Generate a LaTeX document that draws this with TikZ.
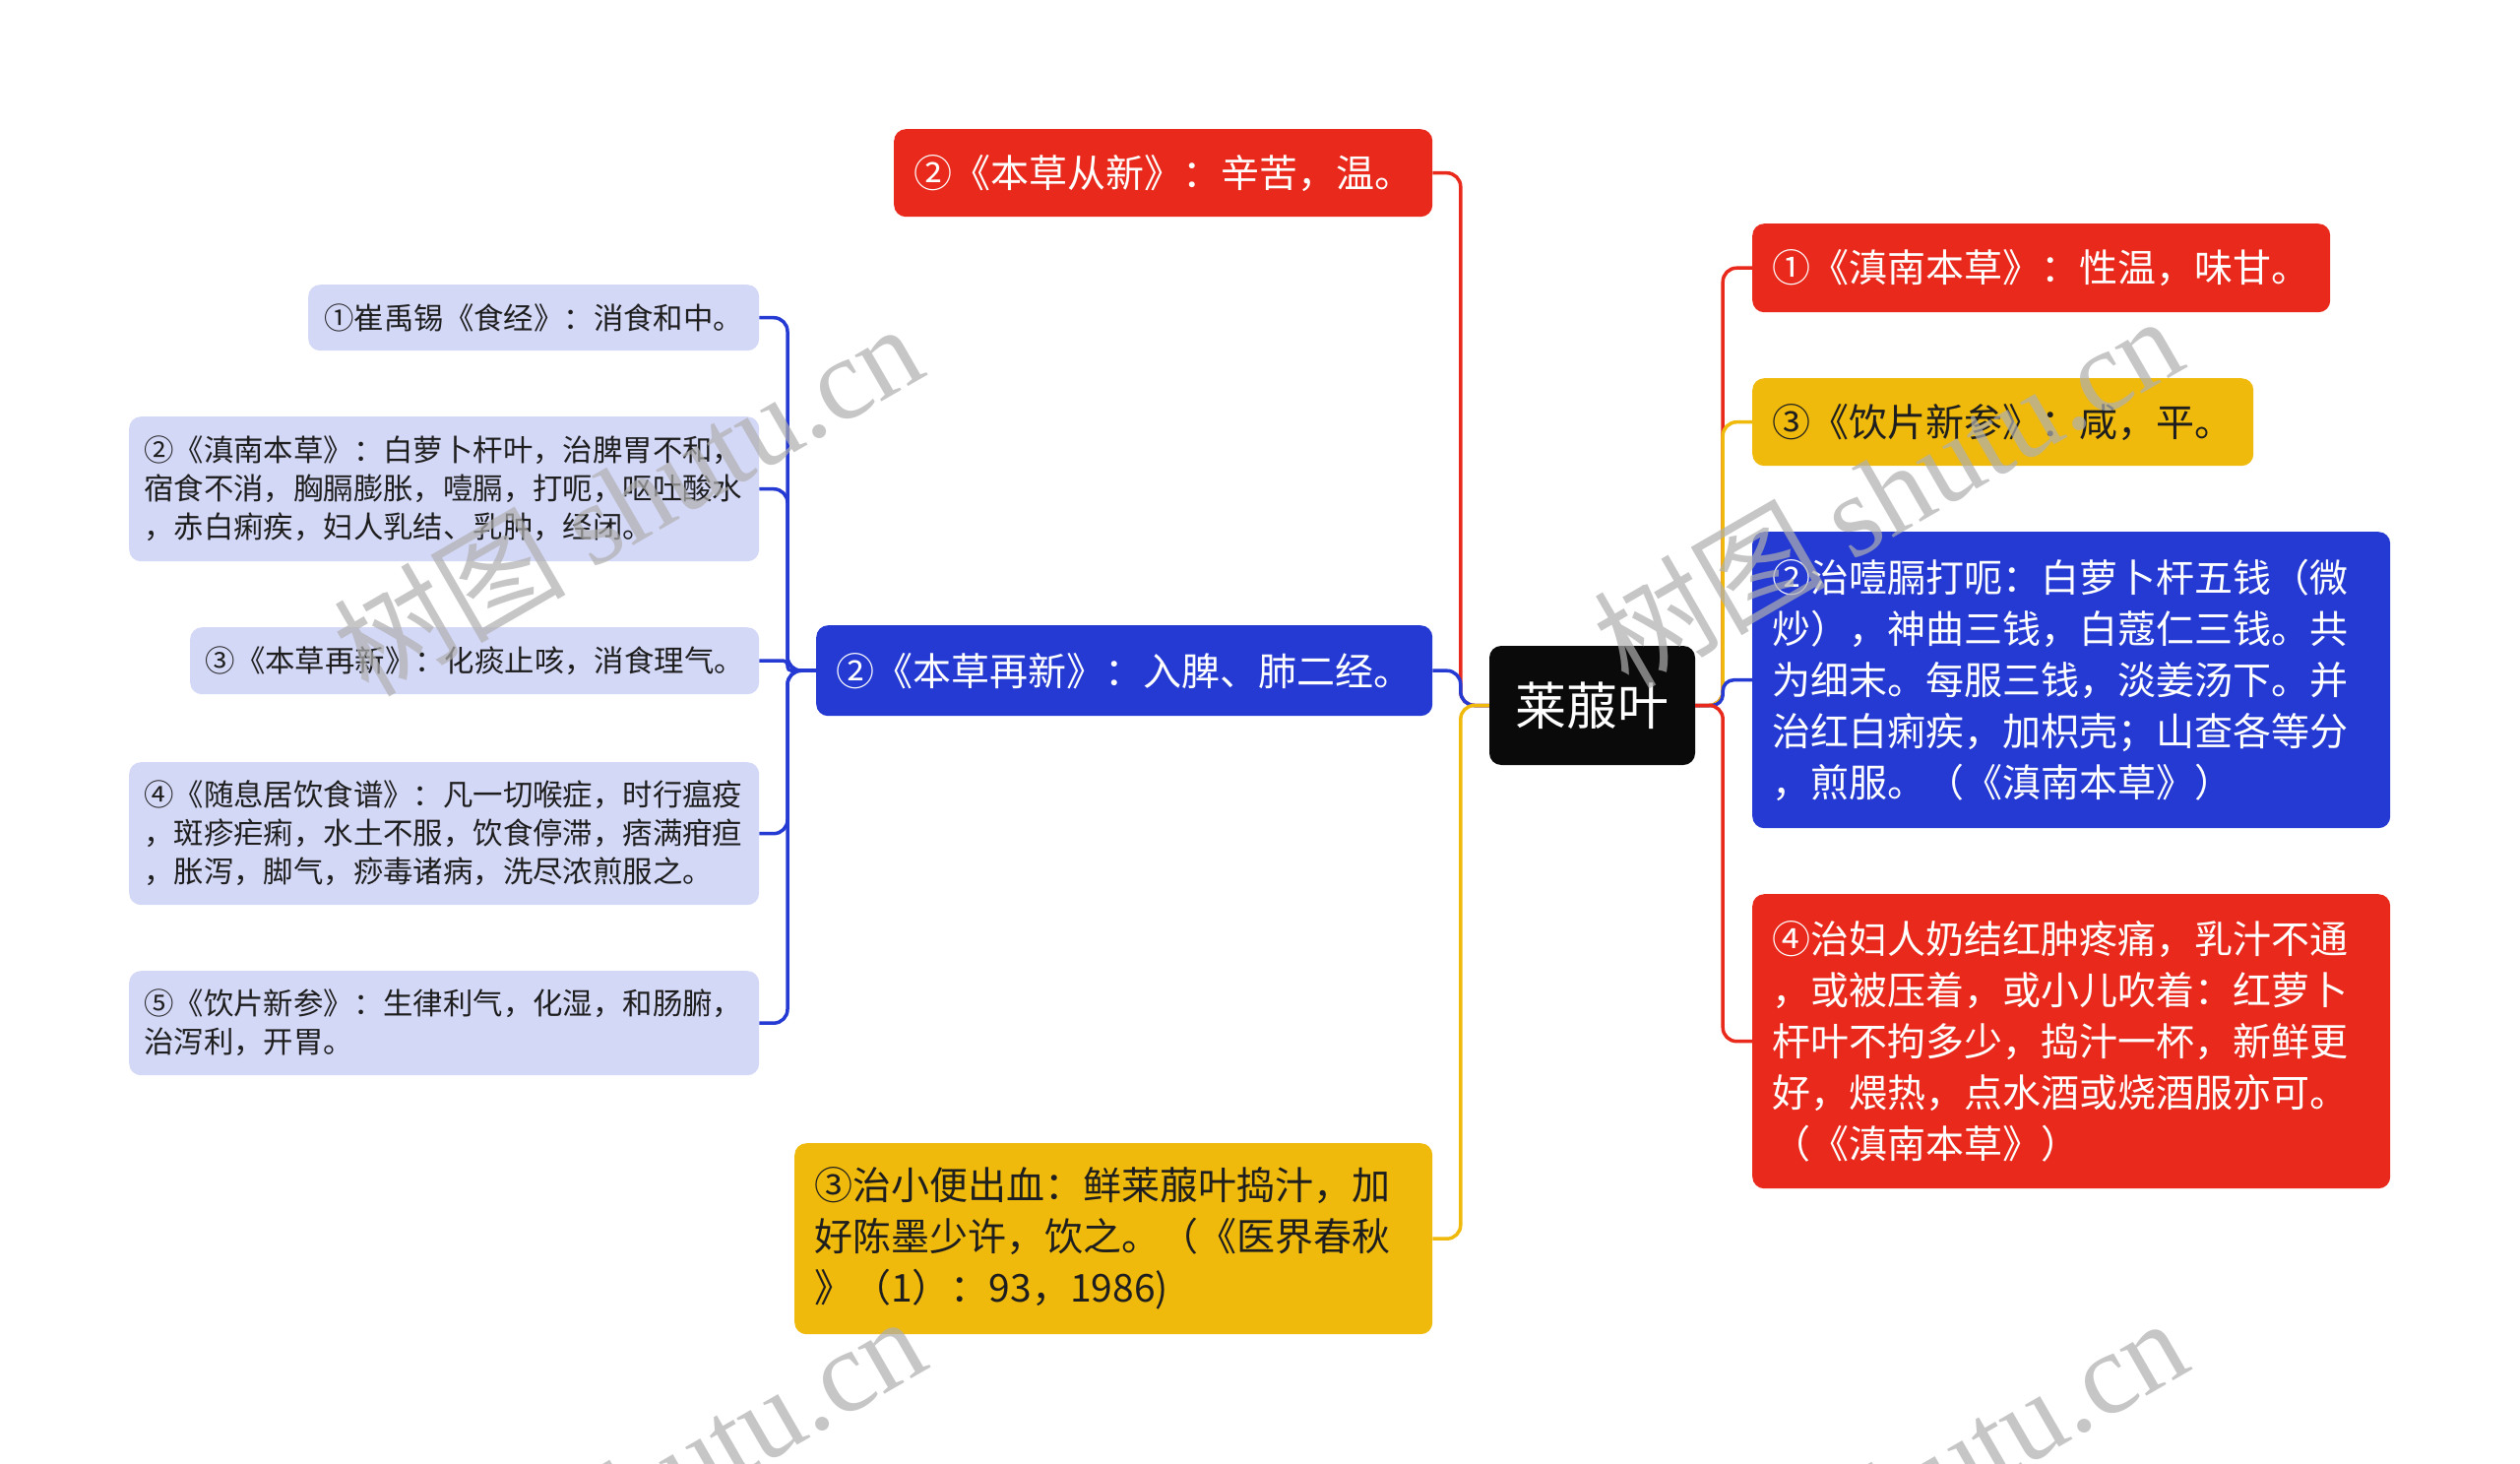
\documentclass[tikz,border=0pt]{standalone}
\usepackage{fontspec}
\setmainfont{Noto Sans CJK SC}
\newfontfamily\wmfont{Liberation Serif}
\newfontfamily\wmcjk{Noto Sans CJK SC}
\definecolor{cred}{RGB}{233,41,27}
\definecolor{cblue}{RGB}{36,58,211}
\definecolor{cyel}{RGB}{240,186,12}
\definecolor{clav}{RGB}{212,216,247}
\definecolor{cblk}{RGB}{10,10,10}
\definecolor{ctxt}{RGB}{30,30,30}
\definecolor{wmgray}{RGB}{175,175,175}
\begin{document}
\begin{tikzpicture}[x=1pt,y=-1pt,
  bigbox/.style={rounded corners=12pt, inner xsep=20pt, inner ysep=0pt, anchor=north west,
    font=\fontsize{39pt}{52pt}\selectfont},
  lavbox/.style={rounded corners=12pt, inner xsep=15pt, inner ysep=0pt, anchor=north west,
    fill=clav, text=ctxt, font=\fontsize{30.4pt}{39pt}\selectfont},
  conn/.style={line width=3.5pt, rounded corners=14pt},
  wm/.style={rotate=30, anchor=base east, inner sep=0pt, text=wmgray, text opacity=0.7,
    font=\fontsize{118pt}{118pt}\selectfont}
]
\useasboundingbox (0,0) rectangle (2560,1487);
\clip (0,0) rectangle (2560,1487);
\fill[white] (0,0) rectangle (2560,1487);

% central
\node[rounded corners=12pt, fill=cblk, text=white, minimum width=209pt, minimum height=121pt,
  inner sep=0pt, font=\fontsize{52pt}{60pt}\selectfont] (cent) at (1617.5,716.5) {莱菔叶};

% left main branches
\node[bigbox, fill=cred, text=white, minimum width=547pt, minimum height=89pt, text width=507pt, align=center]
  (l1) at (908,131) {②《本草从新》：辛苦，温。};
\node[bigbox, fill=cblue, text=white, minimum width=626pt, minimum height=92pt, text width=586pt, align=center]
  (l2) at (829,635) {②《本草再新》：入脾、肺二经。};
\node[bigbox, fill=cyel, text=ctxt, minimum width=648pt, minimum height=194pt, text width=608pt, align=left]
  (l3) at (807,1161) {③治小便出血：鲜莱菔叶捣汁，加\\好陈墨少许，饮之。（《医界春秋\\》（1）：93，1986)};

% lavender sub-branches
\node[lavbox, minimum width=458pt, minimum height=67pt, text width=428pt, align=center]
  (la) at (313,289) {①崔禹锡《食经》：消食和中。};
\node[lavbox, minimum width=640pt, minimum height=147pt, text width=610pt, align=left]
  (lb) at (131,423) {②《滇南本草》：白萝卜杆叶，治脾胃不和，\\宿食不消，胸膈膨胀，噎膈，打呃，呕吐酸水\\，赤白痢疾，妇人乳结、乳肿，经闭。};
\node[lavbox, minimum width=578pt, minimum height=68pt, text width=548pt, align=center]
  (lc) at (193,637) {③《本草再新》：化痰止咳，消食理气。};
\node[lavbox, minimum width=640pt, minimum height=145pt, text width=610pt, align=left]
  (ld) at (131,774) {④《随息居饮食谱》：凡一切喉症，时行瘟疫\\，斑疹疟痢，水土不服，饮食停滞，痞满疳疸\\，胀泻，脚气，痧毒诸病，洗尽浓煎服之。};
\node[lavbox, minimum width=640pt, minimum height=106pt, text width=610pt, align=left]
  (le) at (131,986) {⑤《饮片新参》：生律利气，化湿，和肠腑，\\治泻利，开胃。};

% right branches
\node[bigbox, fill=cred, text=white, minimum width=587pt, minimum height=90pt, text width=547pt, align=center]
  (r1) at (1780,227) {①《滇南本草》：性温，味甘。};
\node[bigbox, fill=cyel, text=ctxt, minimum width=509pt, minimum height=89pt, text width=469pt, align=center]
  (r2) at (1780,384) {③《饮片新参》：咸，平。};
\node[bigbox, fill=cblue, text=white, minimum width=648pt, minimum height=301pt, text width=608pt, align=left]
  (r3) at (1780,540) {②治噎膈打呃：白萝卜杆五钱（微\\炒），神曲三钱，白蔻仁三钱。共\\为细末。每服三钱，淡姜汤下。并\\治红白痢疾，加枳壳；山查各等分\\，煎服。（《滇南本草》）};
\node[bigbox, fill=cred, text=white, minimum width=648pt, minimum height=299pt, text width=608pt, align=left]
  (r4) at (1780,908) {④治妇人奶结红肿疼痛，乳汁不通\\，或被压着，或小儿吹着：红萝卜\\杆叶不拘多少，捣汁一杯，新鲜更\\好，煨热，点水酒或烧酒服亦可。\\（《滇南本草》）};

% connectors left
\draw[conn, cred] (cent.west) -- ++(-29,0) |- (l1.east);
\draw[conn, cblue] (cent.west) -- ++(-29,0) |- (l2.east);
\draw[conn, cyel] (cent.west) -- ++(-29,0) |- (l3.east);
% connectors right
\draw[conn, cred] (cent.east) -- ++(28,0) |- (r1.west);
\draw[conn, cyel] (cent.east) -- ++(28,0) |- (r2.west);
\draw[conn, cblue, rounded corners=11pt] (cent.east) -- ++(28,0) |- (r3.west);
\draw[conn, cred] (cent.east) -- ++(28,0) |- (r4.west);
% connectors lavender
\draw[conn, cblue] (l2.west) -- ++(-29,0) |- (la.east);
\draw[conn, cblue] (l2.west) -- ++(-29,0) |- (lb.east);
\draw[conn, cblue, rounded corners=4pt] (l2.west) -- ++(-29,0) |- (lc.east);
\draw[conn, cblue] (l2.west) -- ++(-29,0) |- (ld.east);
\draw[conn, cblue] (l2.west) -- ++(-29,0) |- (le.east);

% watermarks
\node[wm] (wm1) at (945,380) {{\wmcjk 树图} {\wmfont shutu.cn}};
\node[wm] (wm2) at (2225,372) {{\wmcjk 树图} {\wmfont shutu.cn}};
\node[wm] (wm3) at (948,1388) {{\wmcjk 树图} {\wmfont shutu.cn}};
\node[wm] (wm4) at (2230,1390) {{\wmcjk 树图} {\wmfont shutu.cn}};
\end{tikzpicture}
\end{document}
